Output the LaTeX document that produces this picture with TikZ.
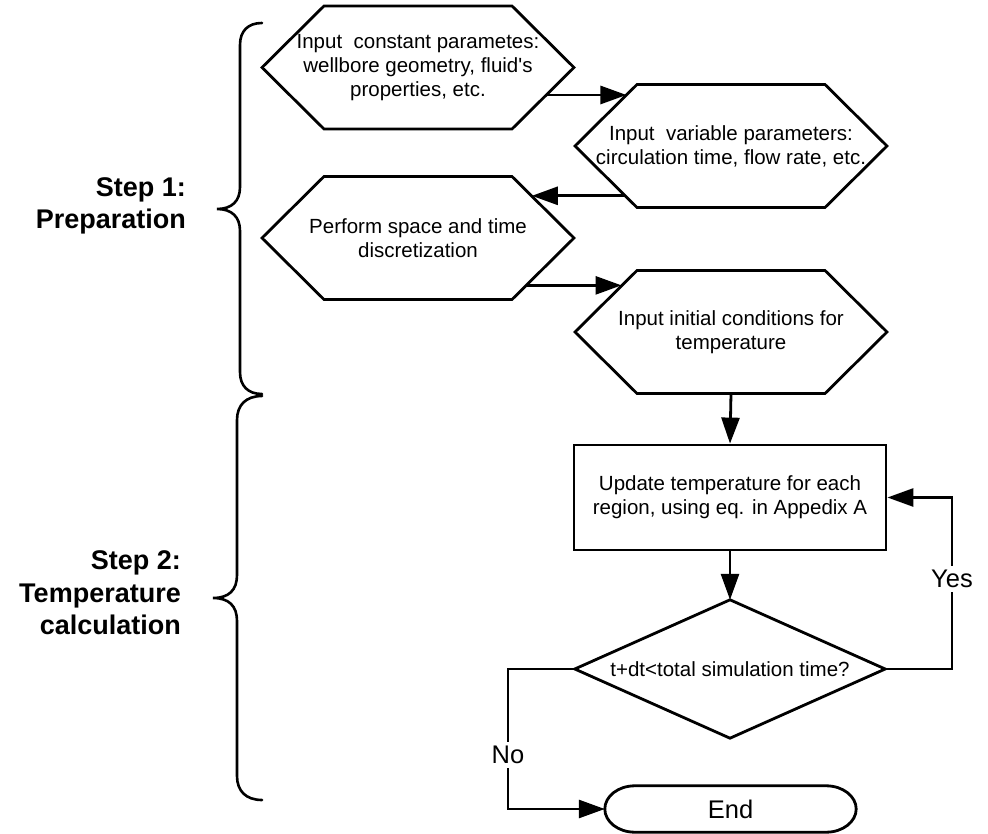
\documentclass[tikz,border=0pt]{standalone}
\usepackage{fontspec}
\setmainfont{Liberation Sans}
\usetikzlibrary{calc,arrows.meta}
\newcommand\myfs{\fontsize{20.5}{24}\selectfont}
\newcommand\myfl{\fontsize{25.5}{30}\selectfont}
\newcommand\myfb{\fontsize{27}{32.5}\selectfont\bfseries}
\begin{document}
\begin{tikzpicture}[x=1pt,y=-1pt,
  box/.style={rectangle, draw=none, inner sep=0pt, align=center, font=\myfs},
  outl/.style={draw=black, line width=2.8pt, line join=miter},
  arr/.style={draw, line width=2.8pt, -{Triangle[length=26pt,width=18pt]}},
  lbl/.style={font=\myfl, fill=white, inner sep=4pt},
  brc/.style={draw, line width=2.6pt, line cap=round},
  steplbl/.style={font=\myfb, align=right, anchor=east, inner sep=0pt}
]
\useasboundingbox (0,0) rectangle (988,834);

% hexagon texts
\node[box] (h1) at (418,67.5)
  {Input\ \ constant parametes:\\wellbore geometry, fluid\textquotesingle s\\properties, etc.};
\node[box] (h2) at (731,146)
  {Input\ \ variable parameters:\\circulation time, flow rate, etc.};
\node[box] (h3) at (418,238)
  {Perform space and time\\discretization};
\node[box] (h4) at (731,332)
  {Input initial conditions for\\temperature};

% hexagon outlines (fixed geometry around each text centre)
\foreach \n in {h1,h2,h3,h4}{
  \coordinate (\n-nw) at ($(\n.center)+(-94,-61.5)$);
  \coordinate (\n-ne) at ($(\n.center)+(94,-61.5)$);
  \coordinate (\n-se) at ($(\n.center)+(94,61.5)$);
  \coordinate (\n-sw) at ($(\n.center)+(-94,61.5)$);
  \coordinate (\n-e) at ($(\n.center)+(156,0)$);
  \coordinate (\n-w) at ($(\n.center)+(-156,0)$);
  \coordinate (\n-s) at ($(\n.center)+(0,61.5)$);
  \draw[outl] (\n-nw) -- (\n-ne) -- (\n-e) -- (\n-se) -- (\n-sw) -- (\n-w) -- cycle;
}

% update box
\node[box, draw, line width=2.8pt, minimum width=312pt, minimum height=105pt] (u) at (730,497.5)
  {Update temperature for each\\region, using eq. in Appedix A};

% decision
\node[box, minimum width=310pt, minimum height=138pt] (d) at (730,669)
  {t+dt<total simulation time?};
\draw[outl] (d.north) -- (d.east) -- (d.south) -- (d.west) -- cycle;

% end terminator
\node[box, font=\myfl, minimum width=251pt, minimum height=46pt] (e) at (730.5,809) {End};
\draw[outl] ($(e.north east)+(-30,0)$) .. controls +(16.6,0) and +(0,-12.7) .. (e.east)
  .. controls +(0,12.7) and +(16.6,0) .. ($(e.south east)+(-30,0)$)
  -- ($(e.south west)+(30,0)$) .. controls +(-16.6,0) and +(0,12.7) .. (e.west)
  .. controls +(0,-12.7) and +(-16.6,0) .. ($(e.north west)+(30,0)$) -- cycle;

% connectors between hexagons
\coordinate (a1) at ($(h1-e)!0.447!(h1-se)$);
\coordinate (b1) at ($(h2-w)!0.83!(h2-nw)$);
\draw[arr] (a1) -- (a1 -| b1);
\coordinate (a2) at ($(h2-w)!0.81!(h2-sw)$);
\coordinate (b2) at ($(h3-e)!0.68!(h3-ne)$);
\draw[arr] (a2) -- (a2 -| b2);
\coordinate (a3) at ($(h3-e)!0.77!(h3-se)$);
\coordinate (b3) at ($(h4-w)!0.75!(h4-nw)$);
\draw[arr] (a3) -- (a3 -| b3);

\draw[arr] (h4-s) -- (u.north);
\draw[arr] (u.south) -- (d.north);

\coordinate (yx) at (952,579);
\draw[arr] (d.east) -- (d.east -| yx) -- (yx |- u.east) -- (u.east);
\node[lbl] (yes) at (yx) {Yes};

\coordinate (nx) at (508,755);
\draw[arr] (d.west) -- (d.west -| nx) -- (nx |- e.west) -- (e.west);
\node[lbl] (no) at (nx) {No};

% braces
\draw[brc] (262,23) .. controls (248,23) and (240,31) .. (240,45) -- (240,187)
  .. controls (240,201) and (232,209) .. (217,209)
  .. controls (232,209) and (240,217) .. (240,231) -- (240,372)
  .. controls (240,386) and (248,394) .. (262,394);
\draw[brc] (262,396) .. controls (246,396) and (237,405) .. (237,420) -- (237,575)
  .. controls (237,590) and (229,598) .. (213,598)
  .. controls (229,598) and (237,606) .. (237,621) -- (237,776)
  .. controls (237,791) and (246,800) .. (262,800);

% step labels
\node[steplbl] (s1) at (186,206) {Step 1:\\Preparation};
\node[steplbl] (s2) at (181,593) {Step 2:\\Temperature\\calculation};
\end{tikzpicture}
\end{document}
